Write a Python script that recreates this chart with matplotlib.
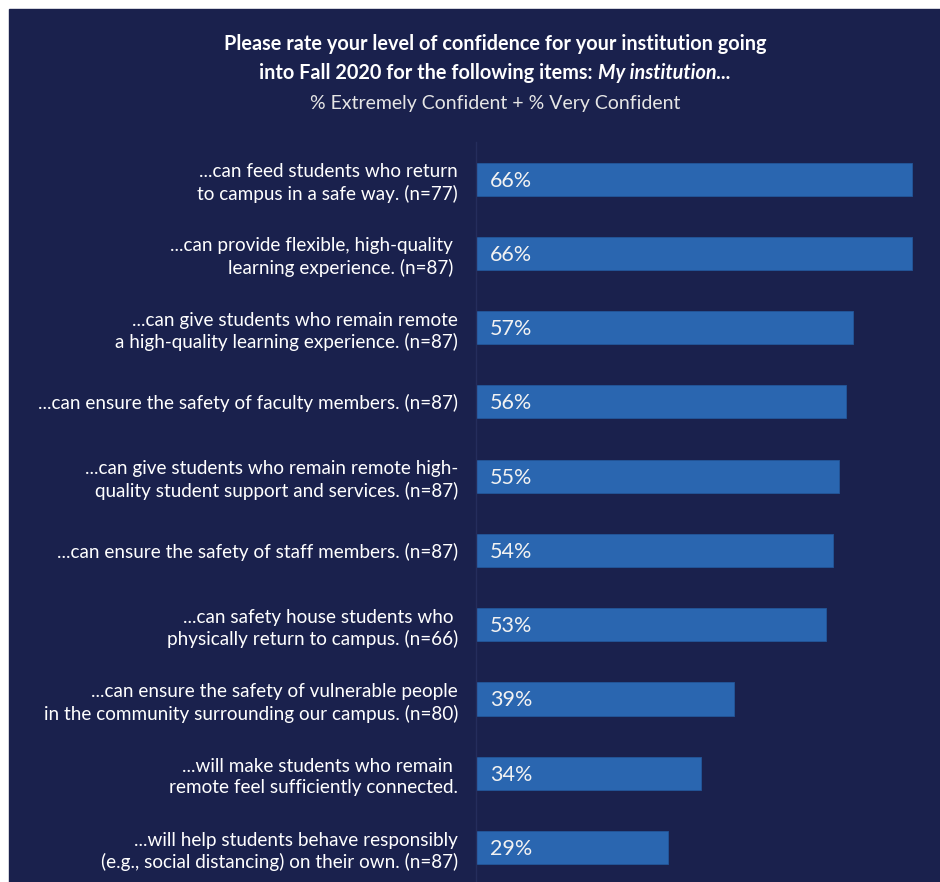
import numpy as np
import matplotlib as mpl
mpl.use('agg')
import matplotlib.pyplot as plt
from matplotlib.patches import Rectangle

labels = [
    '...can feed students who return\nto campus in a safe way. (n=77)',
    '...can provide flexible, high-quality \nlearning experience. (n=87) ',
    '...can give students who remain remote\na high-quality learning experience. (n=87)',
    '...can ensure the safety of faculty members. (n=87)',
    '...can give students who remain remote high-\nquality student support and services. (n=87)',
    '...can ensure the safety of staff members. (n=87)',
    '...can safety house students who \nphysically return to campus. (n=66)',
    '...can ensure the safety of vulnerable people\nin the community surrounding our campus. (n=80)',
    '...will make students who remain \nremote feel sufficiently connected.',
    '...will help students behave responsibly\n(e.g., social distancing) on their own. (n=87)',
]
values = [66, 66, 57, 56, 55, 54, 53, 39, 34, 29]

navy = '#1a214d'
bar_blue = '#2a66b0'
title_font = 'Lato'
body_font = 'Lato'

W, H = 940, 882
fig = plt.figure(figsize=(W / 100, H / 100), dpi=100, facecolor='white')
bg = Rectangle((9 / W, 0), 1 - 9 / W, (H - 9) / H, transform=fig.transFigure,
               color=navy, zorder=-10)
fig.add_artist(bg)

# axes placed in pixel terms: bars start at x=476, 6.606 px per percent
x0, px_per = 476, 6.606
ax = fig.add_axes([x0 / W, 0, 70 * px_per / W, (H - 142) / H])
ax.set_facecolor('none')

y = np.arange(len(values))
ax.barh(y, values, height=0.445, color=bar_blue, edgecolor='#23579a', lw=0.6)
for yi, v in zip(y, values):
    ax.annotate(f'{v}%', (0, yi), xytext=(10, -1), textcoords='offset points',
                va='center', ha='left', color='#f2f2f2', fontsize=15.5,
                family=body_font)

ax.set_xlim(0, 70)
ax.set_ylim(9.464, -0.5)
ax.set_yticks(y)
ax.set_yticklabels(labels, family=body_font, fontsize=13.6, color='white',
                   linespacing=1.3)
ax.tick_params(axis='y', length=0, pad=13)
ax.set_xticks([])
for s in ['top', 'right', 'bottom']:
    ax.spines[s].set_visible(False)
ax.spines['left'].set_color('#252d5c')
ax.spines['left'].set_linewidth(1.0)

# title block
fig.text(495 / W, 1 - 44 / H, 'Please rate your level of confidence for your institution going',
         ha='center', va='center', color='white', fontsize=14.3, fontweight='bold',
         family=title_font)
t1 = fig.text(0, 1 - 73 / H, 'into Fall 2020 for the following items: ',
              ha='left', va='center', color='white', fontsize=14.3, fontweight='bold',
              family=title_font)
t2 = fig.text(0, 1 - 73 / H, 'My institution...',
              ha='left', va='center', color='white', fontsize=14.3, fontweight='bold',
              style='italic', family=title_font)
r = fig.canvas.get_renderer()
w1 = t1.get_window_extent(r).width
w2 = t2.get_window_extent(r).width
start = 495 - (w1 + w2) / 2
t1.set_x(start / W)
t2.set_x((start + w1) / W)
fig.text(495 / W, 1 - 104 / H, '% Extremely Confident + % Very Confident',
         ha='center', va='center', color='#e6e6e6', fontsize=14, family=title_font)

fig.savefig('out.png', dpi=100, facecolor=fig.get_facecolor())
